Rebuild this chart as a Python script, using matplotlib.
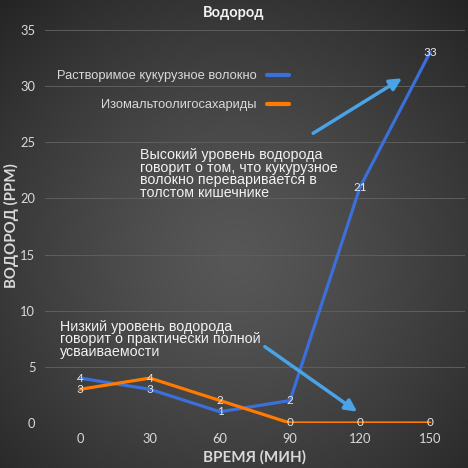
#!/usr/bin/env python3
# -*- coding: UTF-8 -*-

import numpy as np
from matplotlib import pyplot as plt

# data
minutes = ['0', '30', '60', '90', '120', '150']
corn_fiber = [4, 3, 1, 2, 21, 33]
imo = [3, 4, 2, 0, 0, 0]
series_names = ['Растворимое кукурузное волокно', 'Изомальтоолигосахариды']
y_ticks = [0, 5, 10, 15, 20, 25, 30, 35]

note_high = 'Высокий уровень водорода\nговорит о том, что кукурузное\nволокно переваривается в\nтолстом кишечнике'
note_low = 'Низкий уровень водорода\nговорит о практически полной\nусваиваемости'

BLUE = '#3b6fd9'
ORANGE = '#ff7a00'
ARROW = '#4aa3e6'
TXT = '#d9d9d9'
NUM_FONT = 'Lato'
SANS = 'Liberation Sans'

W, H = 468, 468
fig = plt.figure(figsize=(W / 100, H / 100), dpi=100)

# radial grey background
bg = fig.add_axes([0, 0, 1, 1], zorder=-10)
yy, xx = np.mgrid[0:H, 0:W]
r = np.sqrt((xx - W * 0.5) ** 2 + (yy - H * 0.55) ** 2) / np.sqrt((W * 0.5) ** 2 + (H * 0.55) ** 2)
shade = (0x57 - (0x57 - 0x24) * np.clip(r, 0, 1) ** 1.3) / 255.0
bg.imshow(np.dstack([shade, shade, shade]), aspect='auto', interpolation='bilinear')
bg.axis('off')

ax = fig.add_axes([45 / W, 1 - 423 / H, 420 / W, 393 / H])
ax.patch.set_alpha(0)
x = np.arange(len(minutes))

ax.plot(x, corn_fiber, color=BLUE, lw=2.3, solid_capstyle='round', solid_joinstyle='round',
        label=series_names[0], zorder=3)
ax.plot(x, imo, color=ORANGE, lw=2.3, solid_capstyle='round', solid_joinstyle='round',
        label=series_names[1], zorder=4)

for xi, v in zip(x, corn_fiber):
    ax.text(xi, v, str(v), ha='center', va='center', color='#e6e6e6', fontsize=8.5,
            family=NUM_FONT, zorder=6)
for xi, v in zip(x, imo):
    ax.text(xi, v, str(v), ha='center', va='center', color='#e6e6e6', fontsize=8.5,
            family=NUM_FONT, zorder=6)

ax.set_xlim(-0.5, len(minutes) - 0.5)
ax.set_ylim(0, 35)
ax.set_xticks(x)
ax.set_xticklabels(minutes)
ax.set_yticks(y_ticks)
ax.tick_params(length=0, colors=TXT, labelsize=9.3)
ax.tick_params(axis='x', pad=7)
ax.tick_params(axis='y', pad=7)
for lbl in ax.get_xticklabels() + ax.get_yticklabels():
    lbl.set_family(NUM_FONT)
ax.grid(axis='y', color='#5e5e5e', lw=0.7, zorder=0)
ax.set_axisbelow(True)
for s in ax.spines.values():
    s.set_visible(False)

fig.text(234 / W, 1 - 13 / H, 'Водород', ha='center', va='center', fontsize=10.5,
         fontweight='bold', color='#f2f2f2', family=NUM_FONT)
fig.text(255 / W, 1 - 457 / H, 'ВРЕМЯ (МИН)', ha='center', va='center', fontsize=11,
         fontweight='bold', color=TXT, family=NUM_FONT)
fig.text(11 / W, 1 - 226 / H, 'ВОДОРОД (PPM)', ha='center', va='center', rotation=90,
         fontsize=10.8, fontweight='bold', color=TXT, family=NUM_FONT)

leg = ax.legend(loc='upper right', bbox_to_anchor=(295 / W, 1 - 64 / H),
                bbox_transform=fig.transFigure, frameon=False, markerfirst=False,
                handlelength=1.7, handletextpad=0.75, labelspacing=1.3, borderpad=0,
                prop={'family': SANS, 'size': 9.3})
for t in leg.get_texts():
    t.set_color(TXT)
for ln in leg.get_lines():
    ln.set_linewidth(3)
    ln.set_solid_capstyle('round')

ax.text(0.857, 24.5, note_high, ha='left', va='top', color='#f2f2f2', fontsize=10.3,
        family=SANS, linespacing=0.88, zorder=7)
ax.text(-0.29, 9.2, note_low, ha='left', va='top', color='#f2f2f2', fontsize=10.3,
        family=SANS, linespacing=0.86, zorder=7)

arrow_style = dict(arrowstyle='-|>,head_length=0.7,head_width=0.35', color=ARROW, lw=2.5,
                   shrinkA=0, shrinkB=0)
ax.annotate('', xy=(4.6, 30.7), xytext=(3.33, 25.8), arrowprops=arrow_style, zorder=8)
ax.annotate('', xy=(3.96, 1.0), xytext=(2.64, 6.8), arrowprops=arrow_style, zorder=8)

fig.savefig('out.png', dpi=100)
